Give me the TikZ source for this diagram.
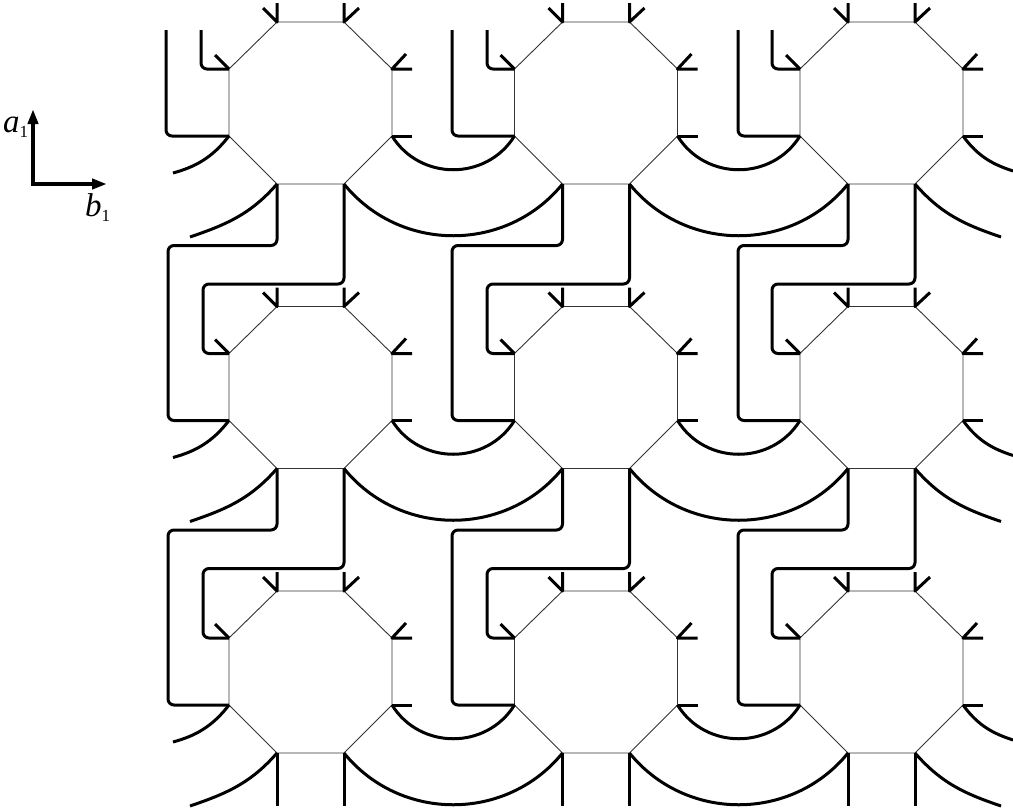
\documentclass[tikz,border=0pt]{standalone}
\usepackage{fontspec}
\setmainfont{Liberation Serif}
\usetikzlibrary{arrows.meta}
\tikzset{
  edgeline/.style={draw=black!80,line width=0.9pt},
  bond/.style={draw=black,line width=3pt,line cap=butt,line join=round},
  link/.style={bond,rounded corners=6pt},
  axisline/.style={draw=black,line width=4pt,-{Triangle[length=15pt,width=10pt]}},
  axislabel/.style={inner sep=0pt,anchor=base west,font=\fontsize{33}{34}\selectfont\itshape}
}
\newcommand{\subone}{\raisebox{-0.18em}{\fontsize{17}{17}\selectfont\upshape 1}}
\begin{document}
\begin{tikzpicture}[x=1pt,y=-1pt]
\useasboundingbox (0,0) rectangle (1013,812);
% axes
\coordinate (origin) at (33,184);
\coordinate (atip) at (33,109);
\coordinate (btip) at (107,184);
\draw[axisline] ([yshift=2pt]origin) -- (atip);
\draw[axisline] ([xshift=-2pt]origin) -- (btip);
\node[axislabel] (alabel) at (3,132) {a\subone};
\node[axislabel] (blabel) at (85,216) {b\subone};
% octagon cells
\foreach \c in {0,1,2}{
 \foreach \r in {0,1,2}{
  \begin{scope}[shift={(285.5*\c,284.5*\r)}]
   \coordinate (tl-\c-\r) at (277,22);
   \coordinate (tr-\c-\r) at (344,22);
   \coordinate (ur-\c-\r) at (392,69);
   \coordinate (lr-\c-\r) at (392,136);
   \coordinate (br-\c-\r) at (344,184);
   \coordinate (bl-\c-\r) at (277,184);
   \coordinate (ll-\c-\r) at (229,136);
   \coordinate (ul-\c-\r) at (229,69);
   \coordinate (tlu-\c-\r) at (277,3);
   \coordinate (tld-\c-\r) at (263,8);
   \coordinate (tru-\c-\r) at (344,3);
   \coordinate (trd-\c-\r) at (359,8);
   \coordinate (uld-\c-\r) at (215,55);
   \coordinate (urh-\c-\r) at (412,69);
   \coordinate (urd-\c-\r) at (406,54);
   \coordinate (lrh-\c-\r) at (412,136);
   \draw[edgeline] (tl-\c-\r) -- (tr-\c-\r) -- (ur-\c-\r) -- (lr-\c-\r) -- (br-\c-\r) -- (bl-\c-\r) -- (ll-\c-\r) -- (ul-\c-\r) -- cycle;
   \draw[bond] (tlu-\c-\r) -- (tl-\c-\r) -- (tld-\c-\r);
   \draw[bond] (tru-\c-\r) -- (tr-\c-\r) -- (trd-\c-\r);
   \draw[bond] (uld-\c-\r) -- (ul-\c-\r);
   \draw[bond] (urd-\c-\r) -- (ur-\c-\r) -- (urh-\c-\r);
   \draw[bond] (lrh-\c-\r) -- (lr-\c-\r);
  \end{scope}
 }
}
% arcs between neighbouring cells
\foreach \r in {0,1,2}{
 \foreach \c/\n in {0/1,1/2}{
  \draw[bond] (lr-\c-\r) .. controls +(28,45) and +(-28,45) .. (ll-\n-\r);
  \draw[bond] (br-\c-\r) .. controls +(56,69) and +(-56,69) .. (bl-\n-\r);
 }
 \begin{scope}[shift={(0,284.5*\r)}]
  \coordinate (lfa-\r) at (173,173);
  \coordinate (lfb-\r) at (190,237);
  \coordinate (rga-\r) at (1013,171);
  \coordinate (rgb-\r) at (1001,237);
 \end{scope}
 \draw[bond] (ll-0-\r) .. controls +(-17,22) and +(22,-6) .. (lfa-\r);
 \draw[bond] (bl-0-\r) .. controls +(-27,31) and +(35,-12) .. (lfb-\r);
 \draw[bond] (lr-2-\r) .. controls +(16,22) and +(-18,-6) .. (rga-\r);
 \draw[bond] (br-2-\r) .. controls +(27,31) and +(-35,-12) .. (rgb-\r);
}
% top row free lines
\coordinate (ta-0) at (166,30);
\coordinate (tb-0) at (201,30);
\coordinate (ta-1) at (452,30);
\coordinate (tb-1) at (487,30);
\coordinate (ta-2) at (738,30);
\coordinate (tb-2) at (772,30);
\foreach \c in {0,1,2}{
  \draw[link] (ta-\c) |- (ll-\c-0);
  \draw[link] (tb-\c) |- (ul-\c-0);
}
% links between rows
\foreach \r/\n in {0/1,1/2}{
 \foreach \c/\xa/\xb in {0/168/203,1/452/487,2/738/772}{
  \coordinate (wa-\c-\n) at (\xa,245.5+284.5*\r);
  \coordinate (wb-\c-\n) at (\xb,284+284.5*\r);
  \draw[link] (bl-\c-\r) |- (wa-\c-\n) |- (ll-\c-\n);
  \draw[link] (br-\c-\r) |- (wb-\c-\n) |- (ul-\c-\n);
 }
}
% bottom free ends
\foreach \c in {0,1,2}{
  \coordinate (ea-\c) at (277+285.5*\c,806);
  \coordinate (eb-\c) at (344+285.5*\c,806);
  \draw[bond] (bl-\c-2) -- (ea-\c);
  \draw[bond] (br-\c-2) -- (eb-\c);
}
\end{tikzpicture}
\end{document}
